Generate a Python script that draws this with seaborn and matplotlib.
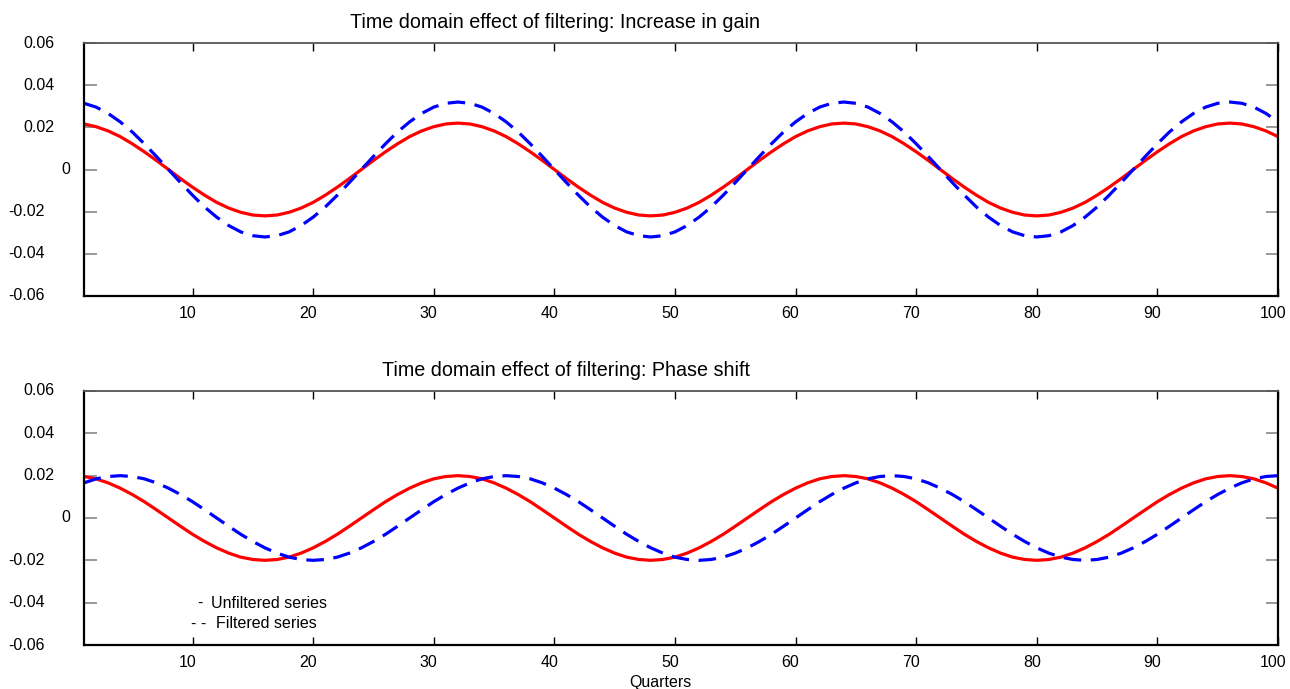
import pandas as pd
import seaborn as sns
import matplotlib.pyplot as plt
from matplotlib.transforms import ScaledTranslation

# Quarters on the x axis
quarters = list(range(1, 101))

# Panel 1: increase in gain
gain_unfiltered = [
    0.0216, 0.0203, 0.0183, 0.0156, 0.0122, 0.0084, 0.0043, 0.0000, -0.0043, -0.0084,
    -0.0122, -0.0156, -0.0183, -0.0203, -0.0216, -0.0220, -0.0216, -0.0203, -0.0183, -0.0156,
    -0.0122, -0.0084, -0.0043, 0.0000, 0.0043, 0.0084, 0.0122, 0.0156, 0.0183, 0.0203,
    0.0216, 0.0220, 0.0216, 0.0203, 0.0183, 0.0156, 0.0122, 0.0084, 0.0043, 0.0000,
    -0.0043, -0.0084, -0.0122, -0.0156, -0.0183, -0.0203, -0.0216, -0.0220, -0.0216, -0.0203,
    -0.0183, -0.0156, -0.0122, -0.0084, -0.0043, 0.0000, 0.0043, 0.0084, 0.0122, 0.0156,
    0.0183, 0.0203, 0.0216, 0.0220, 0.0216, 0.0203, 0.0183, 0.0156, 0.0122, 0.0084,
    0.0043, 0.0000, -0.0043, -0.0084, -0.0122, -0.0156, -0.0183, -0.0203, -0.0216, -0.0220,
    -0.0216, -0.0203, -0.0183, -0.0156, -0.0122, -0.0084, -0.0043, 0.0000, 0.0043, 0.0084,
    0.0122, 0.0156, 0.0183, 0.0203, 0.0216, 0.0220, 0.0216, 0.0203, 0.0183, 0.0156,
]
gain_filtered = [
    0.0314, 0.0296, 0.0266, 0.0226, 0.0178, 0.0122, 0.0062, 0.0000, -0.0062, -0.0122,
    -0.0178, -0.0226, -0.0266, -0.0296, -0.0314, -0.0320, -0.0314, -0.0296, -0.0266, -0.0226,
    -0.0178, -0.0122, -0.0062, 0.0000, 0.0062, 0.0122, 0.0178, 0.0226, 0.0266, 0.0296,
    0.0314, 0.0320, 0.0314, 0.0296, 0.0266, 0.0226, 0.0178, 0.0122, 0.0062, 0.0000,
    -0.0062, -0.0122, -0.0178, -0.0226, -0.0266, -0.0296, -0.0314, -0.0320, -0.0314, -0.0296,
    -0.0266, -0.0226, -0.0178, -0.0122, -0.0062, 0.0000, 0.0062, 0.0122, 0.0178, 0.0226,
    0.0266, 0.0296, 0.0314, 0.0320, 0.0314, 0.0296, 0.0266, 0.0226, 0.0178, 0.0122,
    0.0062, 0.0000, -0.0062, -0.0122, -0.0178, -0.0226, -0.0266, -0.0296, -0.0314, -0.0320,
    -0.0314, -0.0296, -0.0266, -0.0226, -0.0178, -0.0122, -0.0062, 0.0000, 0.0062, 0.0122,
    0.0178, 0.0226, 0.0266, 0.0296, 0.0314, 0.0320, 0.0314, 0.0296, 0.0266, 0.0226,
]

# Panel 2: phase shift
phase_unfiltered = [
    0.0196, 0.0185, 0.0166, 0.0141, 0.0111, 0.0077, 0.0039, 0.0000, -0.0039, -0.0077,
    -0.0111, -0.0141, -0.0166, -0.0185, -0.0196, -0.0200, -0.0196, -0.0185, -0.0166, -0.0141,
    -0.0111, -0.0077, -0.0039, 0.0000, 0.0039, 0.0077, 0.0111, 0.0141, 0.0166, 0.0185,
    0.0196, 0.0200, 0.0196, 0.0185, 0.0166, 0.0141, 0.0111, 0.0077, 0.0039, 0.0000,
    -0.0039, -0.0077, -0.0111, -0.0141, -0.0166, -0.0185, -0.0196, -0.0200, -0.0196, -0.0185,
    -0.0166, -0.0141, -0.0111, -0.0077, -0.0039, 0.0000, 0.0039, 0.0077, 0.0111, 0.0141,
    0.0166, 0.0185, 0.0196, 0.0200, 0.0196, 0.0185, 0.0166, 0.0141, 0.0111, 0.0077,
    0.0039, 0.0000, -0.0039, -0.0077, -0.0111, -0.0141, -0.0166, -0.0185, -0.0196, -0.0200,
    -0.0196, -0.0185, -0.0166, -0.0141, -0.0111, -0.0077, -0.0039, 0.0000, 0.0039, 0.0077,
    0.0111, 0.0141, 0.0166, 0.0185, 0.0196, 0.0200, 0.0196, 0.0185, 0.0166, 0.0141,
]
phase_filtered = [
    0.0166, 0.0185, 0.0196, 0.0200, 0.0196, 0.0185, 0.0166, 0.0141, 0.0111, 0.0077,
    0.0039, 0.0000, -0.0039, -0.0077, -0.0111, -0.0141, -0.0166, -0.0185, -0.0196, -0.0200,
    -0.0196, -0.0185, -0.0166, -0.0141, -0.0111, -0.0077, -0.0039, 0.0000, 0.0039, 0.0077,
    0.0111, 0.0141, 0.0166, 0.0185, 0.0196, 0.0200, 0.0196, 0.0185, 0.0166, 0.0141,
    0.0111, 0.0077, 0.0039, 0.0000, -0.0039, -0.0077, -0.0111, -0.0141, -0.0166, -0.0185,
    -0.0196, -0.0200, -0.0196, -0.0185, -0.0166, -0.0141, -0.0111, -0.0077, -0.0039, 0.0000,
    0.0039, 0.0077, 0.0111, 0.0141, 0.0166, 0.0185, 0.0196, 0.0200, 0.0196, 0.0185,
    0.0166, 0.0141, 0.0111, 0.0077, 0.0039, 0.0000, -0.0039, -0.0077, -0.0111, -0.0141,
    -0.0166, -0.0185, -0.0196, -0.0200, -0.0196, -0.0185, -0.0166, -0.0141, -0.0111, -0.0077,
    -0.0039, 0.0000, 0.0039, 0.0077, 0.0111, 0.0141, 0.0166, 0.0185, 0.0196, 0.0200,
]

x_ticks = [10, 20, 30, 40, 50, 60, 70, 80, 90, 100]
y_ticks = [0.06, 0.04, 0.02, 0, -0.02, -0.04, -0.06]
y_labels = ["0.06", "0.04", "0.02", "0", "-0.02", "-0.04", "-0.06"]

titles = ["Time domain effect of filtering: Increase in gain",
          "Time domain effect of filtering: Phase shift"]

sns.set_style("white")
plt.rcParams['font.family'] = ['Liberation Sans', 'DejaVu Sans']
plt.rcParams['text.color'] = 'black'
plt.rcParams['xtick.color'] = 'black'
plt.rcParams['ytick.color'] = 'black'
plt.rcParams['axes.labelcolor'] = 'black'

W, H = 1290, 689
fig = plt.figure(figsize=(W / 100, H / 100), dpi=100)
ax1 = fig.add_axes([84 / W, 1 - 296 / H, 1194 / W, 253 / H])
ax2 = fig.add_axes([84 / W, 1 - 645 / H, 1194 / W, 254 / H])

df_gain = pd.DataFrame({"Quarters": quarters, "unfiltered": gain_unfiltered,
                        "filtered": gain_filtered})
df_phase = pd.DataFrame({"Quarters": quarters, "unfiltered": phase_unfiltered,
                         "filtered": phase_filtered})


def draw_panel(ax, df):
    sns.lineplot(data=df, x="Quarters", y="unfiltered", ax=ax, color="#ff0000", lw=2.3)
    sns.lineplot(data=df, x="Quarters", y="filtered", ax=ax, color="#0000ff", lw=2.3,
                 linestyle=(0, (5.5, 3.0)))
    ax.set_xlim(1, 100)
    ax.set_ylim(-0.06, 0.06)
    ax.set_xlabel("")
    ax.set_ylabel("")
    ax.set_xticks(x_ticks)
    ax.set_yticks(y_ticks)
    ax.tick_params(axis="x", direction="in", length=6, width=1, top=True, bottom=True,
                   color="black", labelcolor="black", labelsize=11.5, pad=7)
    ax.tick_params(axis="y", direction="in", length=9, width=1.2, left=True, right=True,
                   color="#888888", labelleft=False)
    for side in ["left", "bottom", "right"]:
        ax.spines[side].set_color("black")
        ax.spines[side].set_linewidth(1.6)
    ax.spines["top"].set_color("#555555")
    ax.spines["top"].set_linewidth(1.3)
    # x labels sit slightly left of their ticks
    for lab in ax.get_xticklabels():
        lab.set_transform(lab.get_transform() + ScaledTranslation(-0.05, 0, fig.dpi_scale_trans))
    # y labels: positive, zero and negative are offset differently in the original
    for val, txt in zip(y_ticks, y_labels):
        if val > 0:
            off = -21
        elif val < 0:
            off = -28
        else:
            off = -10
        ax.annotate(txt, xy=(0, val), xycoords=("axes fraction", "data"),
                    xytext=(off, 0), textcoords="offset points",
                    ha="right", va="center", fontsize=11.5, color="black")


draw_panel(ax1, df_gain)
draw_panel(ax2, df_phase)

fig.text(555 / W, 1 - 23 / H, titles[0], ha="center", va="center", fontsize=14.2, color="black")
fig.text(566 / W, 1 - 370 / H, titles[1], ha="center", va="center", fontsize=14.2, color="black")
fig.text(660 / W, 1 - 682 / H, "Quarters", ha="center", va="center", fontsize=11.5, color="black")

# text legend in the lower panel
fig.text(197 / W, 1 - 603 / H, "-", ha="left", va="center", fontsize=11.5)
fig.text(211 / W, 1 - 603 / H, "Unfiltered series", ha="left", va="center", fontsize=11.5)
fig.text(191 / W, 1 - 624 / H, "- -", ha="left", va="center", fontsize=11.5)
fig.text(216 / W, 1 - 624 / H, "Filtered series", ha="left", va="center", fontsize=11.5)

fig.savefig("out.png", dpi=100)
